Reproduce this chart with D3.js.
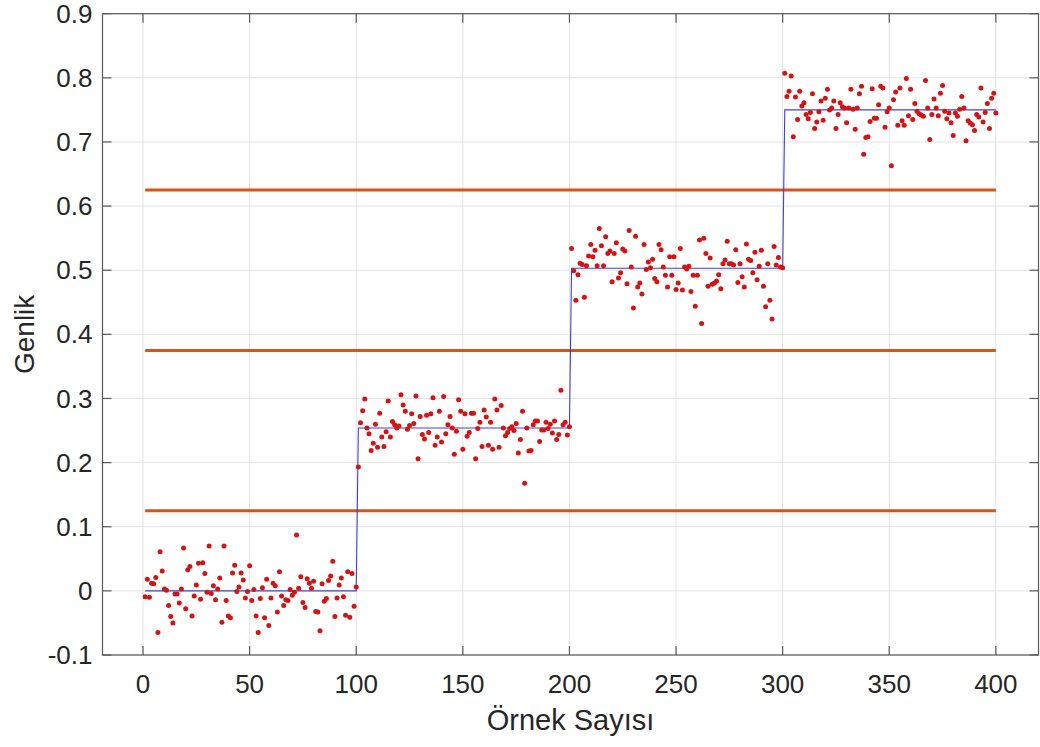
<!DOCTYPE html>
<html>
<head>
<meta charset="utf-8">
<script src="https://cdn.jsdelivr.net/npm/d3@7"></script>
<style>
  body { margin: 0; background: #fff; }
  svg { display: block; }
  text { font-family: "Liberation Sans", Arial, Helvetica, sans-serif; fill: #262626; }
</style>
</head>
<body>
<svg id="chart" width="1040" height="747"></svg>
<script>
// Noisy samples, 100 per amplitude level (samples 1..400)
const segment1 = [
  -0.009, 0.018, -0.010, 0.012, 0.011, 0.021, -0.065, 0.061, 0.031, 0.003,
  0.001, -0.023, -0.040, -0.050, -0.005, -0.005, -0.019, 0.003, 0.067, -0.028,
  0.033, 0.038, -0.039, -0.008, 0.009, 0.043, -0.013, 0.044, 0.027, -0.002,
  0.070, -0.004, 0.008, -0.014, 0.003, 0.020, -0.049, 0.070, -0.015, -0.039,
  -0.042, 0.028, 0.040, -0.001, 0.006, 0.028, 0.017, -0.011, -0.001, 0.039,
  -0.015, 0.002, -0.039, -0.065, -0.012, 0.005, -0.042, 0.018, -0.054, -0.011,
  0.012, 0.008, -0.033, 0.030, -0.008, -0.023, -0.014, -0.015, 0.002, -0.007,
  -0.002, 0.087, 0.004, 0.022, -0.018, -0.026, 0.019, 0.012, 0.004, 0.015,
  -0.032, -0.033, -0.062, 0.011, -0.016, -0.012, 0.016, 0.023, 0.046, -0.040,
  -0.011, 0.009, 0.020, -0.009, -0.038, 0.030, -0.041, 0.027, -0.024, 0.006
];
const segment2 = [
  0.193, 0.262, 0.281, 0.299, 0.254, 0.245, 0.219, 0.230, 0.260, 0.224,
  0.277, 0.240, 0.225, 0.248, 0.296, 0.240, 0.264, 0.259, 0.254, 0.257,
  0.306, 0.290, 0.280, 0.252, 0.258, 0.276, 0.261, 0.304, 0.206, 0.272,
  0.244, 0.237, 0.274, 0.247, 0.276, 0.301, 0.227, 0.240, 0.280, 0.232,
  0.303, 0.245, 0.259, 0.272, 0.254, 0.213, 0.249, 0.298, 0.280, 0.221,
  0.276, 0.241, 0.247, 0.277, 0.277, 0.206, 0.253, 0.263, 0.225, 0.282,
  0.271, 0.227, 0.263, 0.221, 0.299, 0.282, 0.224, 0.289, 0.254, 0.242,
  0.247, 0.253, 0.256, 0.250, 0.261, 0.215, 0.236, 0.280, 0.168, 0.254,
  0.218, 0.219, 0.259, 0.265, 0.265, 0.233, 0.251, 0.251, 0.263, 0.253,
  0.260, 0.246, 0.265, 0.236, 0.244, 0.313, 0.259, 0.263, 0.243, 0.256
];
const segment3 = [
  0.534, 0.499, 0.453, 0.493, 0.511, 0.509, 0.458, 0.507, 0.522, 0.540,
  0.521, 0.531, 0.507, 0.565, 0.538, 0.507, 0.552, 0.526, 0.530, 0.482,
  0.526, 0.543, 0.488, 0.496, 0.533, 0.530, 0.479, 0.562, 0.505, 0.441,
  0.553, 0.474, 0.480, 0.463, 0.540, 0.501, 0.513, 0.504, 0.517, 0.487,
  0.482, 0.540, 0.532, 0.505, 0.492, 0.474, 0.521, 0.492, 0.521, 0.470,
  0.480, 0.534, 0.469, 0.505, 0.502, 0.506, 0.467, 0.492, 0.444, 0.492,
  0.547, 0.417, 0.550, 0.526, 0.475, 0.519, 0.478, 0.480, 0.483, 0.493,
  0.471, 0.510, 0.516, 0.545, 0.510, 0.510, 0.508, 0.532, 0.481, 0.510,
  0.490, 0.474, 0.541, 0.517, 0.515, 0.496, 0.528, 0.485, 0.506, 0.531,
  0.475, 0.443, 0.510, 0.453, 0.424, 0.537, 0.508, 0.520, 0.505, 0.504
];
const segment4 = [
  0.807, 0.771, 0.779, 0.803, 0.708, 0.770, 0.735, 0.779, 0.756, 0.761,
  0.743, 0.736, 0.746, 0.775, 0.721, 0.731, 0.747, 0.764, 0.734, 0.768,
  0.782, 0.750, 0.753, 0.764, 0.721, 0.743, 0.761, 0.755, 0.753, 0.730,
  0.753, 0.782, 0.751, 0.720, 0.753, 0.775, 0.787, 0.681, 0.707, 0.708,
  0.732, 0.783, 0.737, 0.737, 0.758, 0.787, 0.784, 0.723, 0.747, 0.753,
  0.663, 0.766, 0.778, 0.726, 0.784, 0.733, 0.726, 0.799, 0.741, 0.782,
  0.735, 0.760, 0.748, 0.744, 0.742, 0.740, 0.796, 0.753, 0.704, 0.743,
  0.767, 0.753, 0.741, 0.776, 0.788, 0.748, 0.736, 0.745, 0.730, 0.710,
  0.745, 0.740, 0.751, 0.771, 0.753, 0.702, 0.733, 0.729, 0.727, 0.718,
  0.743, 0.739, 0.784, 0.731, 0.746, 0.760, 0.721, 0.768, 0.776, 0.745
];

// Quantizer: reconstruction levels and decision thresholds
const levels = [0, 0.254, 0.503, 0.75];
const thresholds = [0.125, 0.375, 0.625];

// Axis ticks and labels
const xTicks = [0, 50, 100, 150, 200, 250, 300, 350, 400];
const yTicks = [-0.1, 0, 0.1, 0.2, 0.3, 0.4, 0.5, 0.6, 0.7, 0.8, 0.9];
const yTickLabels = ["-0.1", "0", "0.1", "0.2", "0.3", "0.4", "0.5", "0.6", "0.7", "0.8", "0.9"];
const xTitle = "Örnek Sayısı";
const yTitle = "Genlik";

const samples = [...segment1, ...segment2, ...segment3, ...segment4]
  .map((v, i) => ({ n: i + 1, v }));

const svg = d3.select("#chart");
const plot = { left: 102.5, right: 1038.5, top: 13.7, bottom: 655 };

const x = d3.scaleLinear().domain([-19, 420]).range([plot.left, plot.right]);
const y = d3.scaleLinear().domain([-0.1, 0.9]).range([plot.bottom, plot.top]);
const quantize = d3.scaleThreshold().domain(thresholds).range(levels);

// Grid
const grid = svg.append("g").attr("stroke", "#e3e3e3").attr("stroke-width", 1);
grid.selectAll("line.gx").data(xTicks).join("line")
  .attr("x1", d => x(d)).attr("x2", d => x(d))
  .attr("y1", plot.top).attr("y2", plot.bottom);
grid.selectAll("line.gy").data(yTicks).join("line")
  .attr("x1", plot.left).attr("x2", plot.right)
  .attr("y1", d => y(d)).attr("y2", d => y(d));

// Decision thresholds
const nFirst = samples[0].n, nLast = samples[samples.length - 1].n;
svg.append("g").selectAll("line").data(thresholds).join("line")
  .attr("x1", x(nFirst)).attr("x2", x(nLast))
  .attr("y1", d => y(d)).attr("y2", d => y(d))
  .attr("stroke", "#d95319").attr("stroke-width", 3);

// Quantized signal
svg.append("path")
  .datum(samples)
  .attr("fill", "none")
  .attr("stroke", "#4040d8")
  .attr("stroke-width", 1.1)
  .attr("d", d3.line().x(d => x(d.n)).y(d => y(quantize(d.v))));

// Noisy samples
svg.append("g").selectAll("circle").data(samples).join("circle")
  .attr("cx", d => x(d.n)).attr("cy", d => y(d.v))
  .attr("r", 2.5)
  .attr("fill", "#d41414");

// Axes box with inward ticks on all sides
const axisColor = "#5a5a5a";
const tickLen = 9;
const frame = svg.append("g").attr("stroke", axisColor).attr("stroke-width", 1.2);
frame.append("rect")
  .attr("x", plot.left).attr("y", plot.top)
  .attr("width", plot.right - plot.left).attr("height", plot.bottom - plot.top)
  .attr("fill", "none");
xTicks.forEach(t => {
  frame.append("line").attr("x1", x(t)).attr("x2", x(t))
    .attr("y1", plot.bottom).attr("y2", plot.bottom - tickLen);
  frame.append("line").attr("x1", x(t)).attr("x2", x(t))
    .attr("y1", plot.top).attr("y2", plot.top + tickLen);
});
yTicks.forEach(t => {
  frame.append("line").attr("x1", plot.left).attr("x2", plot.left + tickLen)
    .attr("y1", y(t)).attr("y2", y(t));
  frame.append("line").attr("x1", plot.right).attr("x2", plot.right - tickLen)
    .attr("y1", y(t)).attr("y2", y(t));
});

// Tick labels
const fs = 26;
svg.append("g").selectAll("text").data(xTicks).join("text")
  .attr("x", d => x(d)).attr("y", plot.bottom + 38)
  .attr("text-anchor", "middle").attr("font-size", fs)
  .text(d => String(d));
svg.append("g").selectAll("text").data(yTicks).join("text")
  .attr("x", plot.left - 10).attr("y", d => y(d))
  .attr("dy", "0.35em")
  .attr("text-anchor", "end").attr("font-size", fs)
  .text((d, i) => yTickLabels[i]);

// Axis titles
svg.append("text")
  .attr("x", (plot.left + plot.right) / 2).attr("y", 730)
  .attr("text-anchor", "middle").attr("font-size", 29)
  .text(xTitle);
svg.append("text")
  .attr("transform", `translate(34, ${(plot.top + plot.bottom) / 2}) rotate(-90)`)
  .attr("text-anchor", "middle").attr("font-size", 28)
  .text(yTitle);
</script>
</body>
</html>
